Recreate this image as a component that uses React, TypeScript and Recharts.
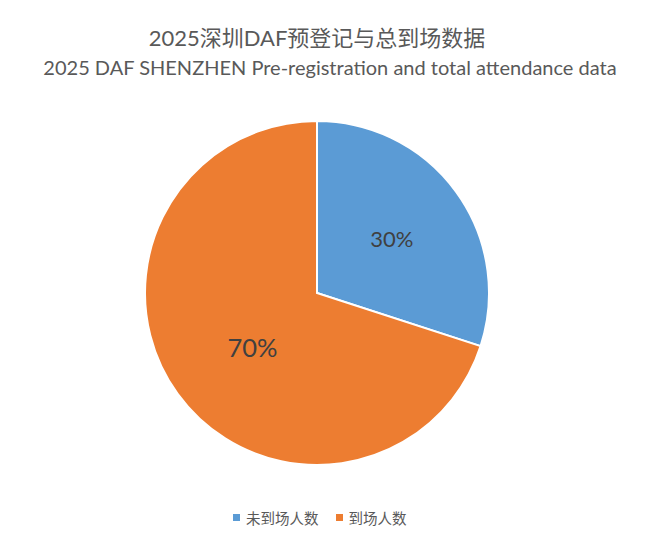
import React from "react";
import { PieChart, Pie, Cell } from "recharts";

const categories = ["未到场人数", "到场人数"];
const values = [30, 70];
const colors = ["#5B9BD5", "#ED7D31"];
const titleLines = ["2025深圳DAF预登记与总到场数据", "2025 DAF SHENZHEN Pre-registration and total attendance data"];

const data = categories.map((name, i) => ({ name, value: values[i] }));
const FONT = "Lato, 'Noto Sans CJK SC', sans-serif";

const RADIAN = Math.PI / 180;
const renderLabel = (props: any) => {
  const { cx, cy, midAngle, outerRadius, percent, index } = props;
  const r = outerRadius * (index === 0 ? 0.537 : 0.49);
  const ang = midAngle + (index === 0 ? 0 : 4);
  const x = cx + r * Math.cos(-ang * RADIAN);
  const y = cy + r * Math.sin(-ang * RADIAN);
  return (
    <text
      x={x}
      y={y}
      fill="#404040"
      textAnchor="middle"
      dominantBaseline="central"
      fontFamily={FONT}
      fontSize={index === 0 ? 22 : 25.5}
    >
      {`${Math.round(percent * 100)}%`}
    </text>
  );
};

export default function App() {
  return (
    <div style={{ position: "relative", width: 655, height: 542 }}>
      <PieChart width={655} height={542} margin={{ top: 0, right: 0, bottom: 0, left: 0 }}>
        <text x={309} y={29} textAnchor="middle" dominantBaseline="central" fill="#595959" fontFamily={FONT} fontSize={22}>
          {titleLines[0]}
        </text>
        <text x={322} y={59} textAnchor="middle" dominantBaseline="central" fill="#595959" fontFamily={FONT} fontSize={20}>
          {titleLines[1]}
        </text>
        <Pie
          data={data}
          dataKey="value"
          nameKey="name"
          cx={309}
          cy={285}
          outerRadius={172}
          startAngle={90}
          endAngle={-270}
          stroke="#ffffff"
          strokeWidth={2}
          label={renderLabel}
          labelLine={false}
          isAnimationActive={false}
        >
          {data.map((d, i) => (
            <Cell key={d.name} fill={colors[i]} />
          ))}
        </Pie>
      </PieChart>
      <div
        style={{
          position: "absolute",
          left: 225,
          top: 499,
          display: "flex",
          alignItems: "center",
          fontFamily: FONT,
          fontSize: 14.5,
          color: "#595959",
          gap: 17,
          whiteSpace: "nowrap",
        }}
      >
        {data.map((d, i) => (
          <div key={d.name} style={{ display: "flex", alignItems: "center" }}>
            <span style={{ display: "inline-block", width: 7, height: 7, background: colors[i], marginRight: 6 }} />
            <span>{d.name}</span>
          </div>
        ))}
      </div>
    </div>
  );
}
